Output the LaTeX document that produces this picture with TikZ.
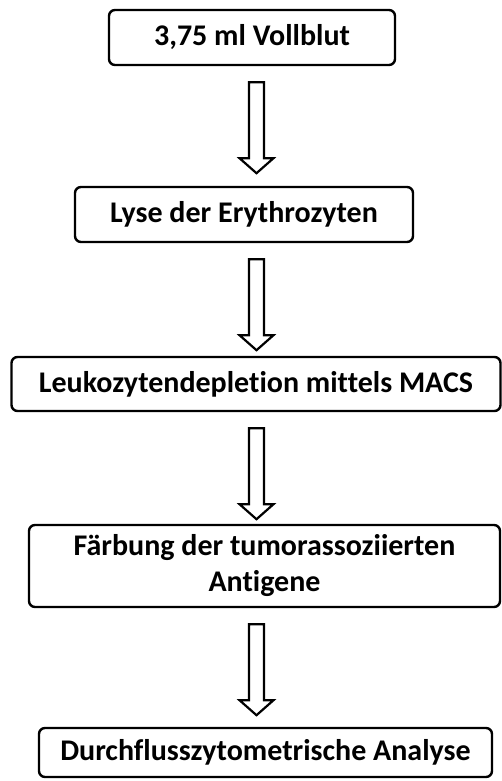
\documentclass[tikz,border=0pt]{standalone}
\usepackage{fontspec}
\setmainfont{Carlito}[Ligatures={NoCommon}]
\usetikzlibrary{calc}

\begin{document}
\begin{tikzpicture}[x=1pt, y=1pt,
  font=\bfseries\fontsize{30}{36}\selectfont,
  stepbox/.style={draw=black, line width=2.4pt, rounded corners=6pt,
                  fill=white, align=center, inner sep=0pt},
  blockarr/.style={draw=black, line width=2.2pt, fill=white, line join=miter},
]
\useasboundingbox (0,0) rectangle (502,-781);

% Steps
\node[stepbox, minimum width=286pt, minimum height=55pt] (blut) at (252,-37.5) {3,75 ml Vollblut};
\node[stepbox, minimum width=338pt, minimum height=55pt] (lyse) at (244,-214.5) {Lyse der Erythrozyten};
\node[stepbox, minimum width=489pt, minimum height=54pt] (macs) at (256,-384) {Leukozytendepletion mittels MACS};
\node[stepbox, minimum width=471pt, minimum height=82pt] (faerb) at (264.5,-566) {Färbung der tumorassoziierten\\Antigene};
\node[stepbox, minimum width=453pt, minimum height=49pt] (facs) at (265.5,-752.5) {Durchflusszytometrische Analyse};

% Arrow axis
\coordinate (axis) at (256.5,0);

\newcommand{\flowarrow}[1]{%
  \draw[blockarr] let \p1=(#1.south -| axis) in
    (\x1-7.5,\y1-16) -- (\x1+7.5,\y1-16) -- (\x1+7.5,\y1-92)
    -- (\x1+17,\y1-92) -- (\x1,\y1-107) -- (\x1-17,\y1-92)
    -- (\x1-7.5,\y1-92) -- cycle;}

% Arrows
\flowarrow{blut}
\flowarrow{lyse}
\flowarrow{macs}
\flowarrow{faerb}

\end{tikzpicture}
\end{document}
